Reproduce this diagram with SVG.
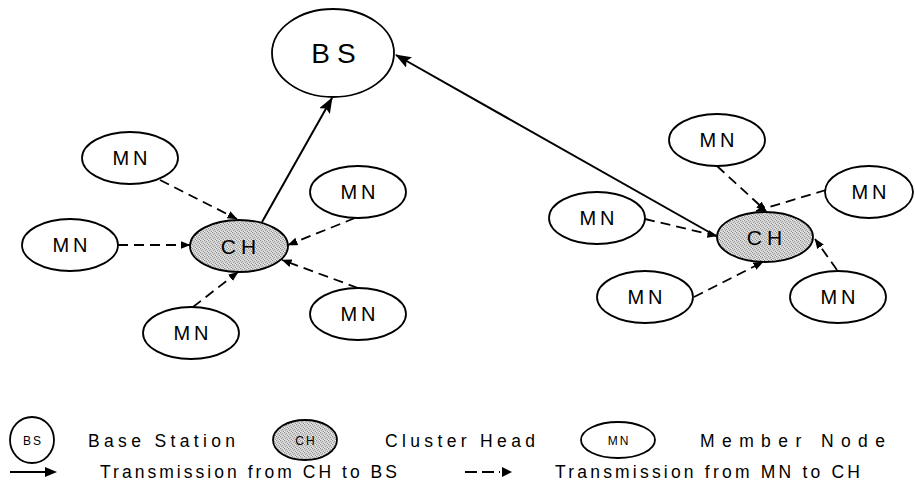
<svg xmlns="http://www.w3.org/2000/svg" width="915" height="486" viewBox="0 0 915 486">
  <style>
    .node { fill: #ffffff; stroke: #000000; stroke-width: 1.8; }
    .head { fill: url(#grain); stroke: #000000; stroke-width: 1.8; }
    .lbl { font-family: "Liberation Sans", Arial, sans-serif; fill: #000000; text-anchor: middle; }
    .mn { font-size: 20px; letter-spacing: 4px; }
    .ch { font-size: 21px; letter-spacing: 5px; }
    .bs { font-size: 28px; letter-spacing: 7px; }
    .legend { font-family: "Liberation Sans", Arial, sans-serif; font-size: 17.5px; fill: #000000; }
    .solid { stroke: #000000; stroke-width: 2; fill: none; marker-end: url(#bigHead); }
    .dash { stroke: #000000; stroke-width: 1.8; fill: none; stroke-dasharray: 10 6; marker-end: url(#smallHead); }
  </style>
  <defs>
    <!-- stippled grey used for cluster heads -->
    <pattern id="grain" width="4" height="4" patternUnits="userSpaceOnUse">
      <rect width="4" height="4" fill="#d2d2d2"/>
      <rect x="0" y="0" width="1" height="1" fill="#8a8a8a"/>
      <rect x="2" y="1" width="1" height="1" fill="#9c9c9c"/>
      <rect x="1" y="2" width="1" height="1" fill="#a8a8a8"/>
      <rect x="3" y="3" width="1" height="1" fill="#8f8f8f"/>
      <rect x="3" y="0" width="1" height="1" fill="#eeeeee"/>
      <rect x="0" y="3" width="1" height="1" fill="#ececec"/>
    </pattern>
    <marker id="bigHead" viewBox="0 0 16 12" refX="15" refY="6" markerWidth="16" markerHeight="12" markerUnits="userSpaceOnUse" orient="auto">
      <path d="M0,0 L16,6 L0,12 L3,6 z" fill="#000000"/>
    </marker>
    <marker id="smallHead" viewBox="0 0 10 8" refX="9.5" refY="4" markerWidth="10" markerHeight="8" markerUnits="userSpaceOnUse" orient="auto">
      <path d="M0,0 L10,4 L0,8 z" fill="#000000"/>
    </marker>
  </defs>

  <!-- links -->
  <g id="connectors">
    <line class="solid" x1="262" y1="222" x2="332" y2="98"/>
    <line class="solid" x1="716" y1="236" x2="396" y2="55"/>

    <line class="dash" x1="160" y1="180" x2="237" y2="219"/>
    <line class="dash" x1="118" y1="245" x2="190" y2="245"/>
    <line class="dash" x1="355" y1="218" x2="288" y2="245"/>
    <line class="dash" x1="358" y1="288" x2="282" y2="260"/>
    <line class="dash" x1="193" y1="307" x2="238" y2="272"/>

    <line class="dash" x1="717" y1="166" x2="766" y2="211"/>
    <line class="dash" x1="826" y1="190" x2="756" y2="211"/>
    <line class="dash" x1="645" y1="219" x2="717" y2="236"/>
    <line class="dash" x1="694" y1="297" x2="763" y2="262"/>
    <line class="dash" x1="837" y1="270" x2="815" y2="239"/>
  </g>

  <g id="bs">
    <ellipse class="node" cx="333" cy="53" rx="61" ry="44"/>
    <text class="lbl bs" x="337" y="63">BS</text>
  </g>

  <g id="ch-left">
    <ellipse class="head" cx="239" cy="246" rx="49" ry="26"/>
    <text class="lbl ch" x="241" y="254">CH</text>
  </g>
  <g id="mn-l1">
    <ellipse class="node" cx="130" cy="158" rx="48" ry="26"/>
    <text class="lbl mn" x="132" y="165">MN</text>
  </g>
  <g id="mn-l2">
    <ellipse class="node" cx="70" cy="245" rx="48" ry="26"/>
    <text class="lbl mn" x="72" y="252">MN</text>
  </g>
  <g id="mn-l3">
    <ellipse class="node" cx="358" cy="192" rx="48" ry="26"/>
    <text class="lbl mn" x="360" y="199">MN</text>
  </g>
  <g id="mn-l4">
    <ellipse class="node" cx="358" cy="314" rx="48" ry="26"/>
    <text class="lbl mn" x="360" y="321">MN</text>
  </g>
  <g id="mn-l5">
    <ellipse class="node" cx="191" cy="333" rx="48" ry="26"/>
    <text class="lbl mn" x="193" y="340">MN</text>
  </g>

  <g id="ch-right">
    <ellipse class="head" cx="765" cy="237" rx="48" ry="25"/>
    <text class="lbl ch" x="767" y="245">CH</text>
  </g>
  <g id="mn-r1">
    <ellipse class="node" cx="717" cy="140" rx="48" ry="26"/>
    <text class="lbl mn" x="719" y="147">MN</text>
  </g>
  <g id="mn-r2">
    <ellipse class="node" cx="869" cy="192" rx="44" ry="26"/>
    <text class="lbl mn" x="871" y="199">MN</text>
  </g>
  <g id="mn-r3">
    <ellipse class="node" cx="597" cy="218" rx="48" ry="26"/>
    <text class="lbl mn" x="599" y="225">MN</text>
  </g>
  <g id="mn-r4">
    <ellipse class="node" cx="645" cy="297" rx="48" ry="26"/>
    <text class="lbl mn" x="647" y="304">MN</text>
  </g>
  <g id="mn-r5">
    <ellipse class="node" cx="838" cy="297" rx="48" ry="26"/>
    <text class="lbl mn" x="840" y="304">MN</text>
  </g>

  <!-- key -->
  <g id="legend">
    <ellipse class="node" cx="32" cy="440" rx="22" ry="23"/>
    <text class="lbl" x="33" y="445" font-size="12" letter-spacing="2">BS</text>
    <text class="legend" x="88" y="447" textLength="147" lengthAdjust="spacing">Base Station</text>

    <ellipse class="head" cx="305" cy="440" rx="32" ry="20"/>
    <text class="lbl" x="306" y="445" font-size="12" letter-spacing="2">CH</text>
    <text class="legend" x="385" y="447" textLength="150" lengthAdjust="spacing">Cluster Head</text>

    <ellipse class="node" cx="618" cy="440" rx="37" ry="18"/>
    <text class="lbl" x="619" y="445" font-size="12" letter-spacing="2">MN</text>
    <text class="legend" x="700" y="447" textLength="185" lengthAdjust="spacing">Member Node</text>

    <line x1="10" y1="472" x2="48" y2="472" stroke="#000" stroke-width="2"/>
    <path d="M45,467 L57,472 L45,477 z" fill="#000"/>
    <text class="legend" x="100" y="478" font-size="15" textLength="297" lengthAdjust="spacing">Transmission from CH to BS</text>

    <line x1="465" y1="472" x2="500" y2="472" stroke="#000" stroke-width="2" stroke-dasharray="12 5"/>
    <path d="M502,467 L512,472 L502,477 z" fill="#000"/>
    <text class="legend" x="555" y="478" font-size="15" textLength="305" lengthAdjust="spacing">Transmission from MN to CH</text>
  </g>
</svg>
